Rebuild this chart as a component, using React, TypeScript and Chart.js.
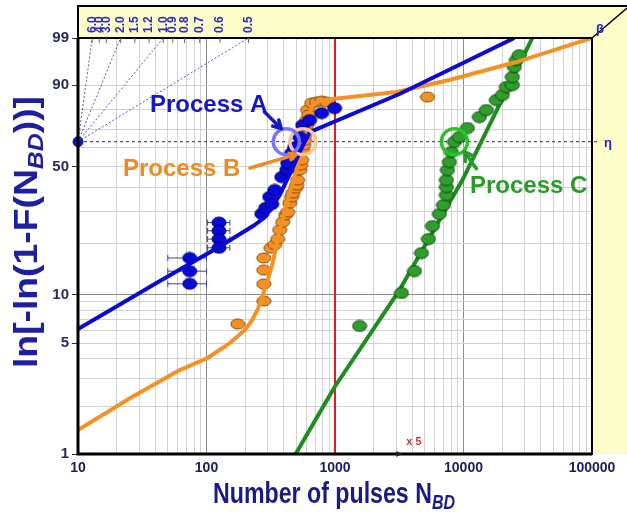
import React, { useEffect, useRef } from "react";
import { Chart, registerables } from "chart.js";
Chart.register(...registerables);

const FONT = "'Liberation Sans', Arial, sans-serif";

// ---- axis definitions ----
const X_LABELS = [10, 100, 1000, 10000, 100000];
const Y_GRID_PCT = [1, 2, 3, 4, 5, 6, 7, 8, 9, 10, 20, 30, 40, 50, 60, 70, 80, 90, 99];
const Y_LABEL_PCT = [1, 5, 10, 50, 90, 99];
const ETA_PCT = 63.21;

// ---- Process A (blue) ----
const A_X = [74, 74, 74, 125, 125, 125, 125, 269, 289, 310, 322, 340, 385, 421, 428, 460, 485, 531, 560, 635, 787, 993];
const A_Y = [16.5, 13.8, 11.6, 26.2, 23.6, 21.2, 18.9, 29.2, 31.4, 35.8, 32.9, 38.8, 44.8, 48.3, 51.8, 57.1, 60.2, 65.7, 72.1, 74.7, 78.2, 80.6];
const A_ERR_LOW = [50, 50, 50, 102, 102, 102, 102];
const A_ERR_HIGH = [100, 100, 100, 152, 152, 152, 152];
const A_FIT_X = [10, 43.4, 127, 237, 280, 320, 371, 460, 550, 635, 3176, 24862];
const A_FIT_Y = [6.14, 12.06, 19.22, 25.4, 27.8, 31.2, 36.61, 48.25, 59.78, 68.42, 86.71, 99.0];

// ---- Process B (orange) ----
const B_X = [175, 279, 279, 279, 279, 316, 339, 358, 371, 392, 413, 428, 444, 460, 468, 494, 503, 512, 531, 540, 550, 560, 570, 580, 580, 591, 602, 602, 612, 624, 658, 719, 787, 860, 5243];
const B_Y = [6.59, 9.12, 11.56, 14.0, 16.5, 18.85, 19.7, 21.2, 23.84, 26.38, 28.8, 29.88, 33.32, 35.8, 37.47, 39.6, 41.03, 43.37, 48.25, 50.8, 53.39, 58.7, 61.4, 63.9, 66.8, 69.5, 72.1, 74.7, 79.7, 77.3, 82.9, 83.36, 83.8, 83.36, 85.5];
const B_FIT_X = [10, 26.3, 62, 102, 152, 198.5, 225, 252, 274, 300, 327.5, 371, 444, 512, 580, 635, 680, 760, 1000, 3010, 7770, 25763, 100000];
const B_FIT_Y = [1.42, 2.3, 3.4, 4.05, 5.02, 6.05, 6.9, 8.2, 9.9, 12.22, 15.41, 23.84, 37.47, 50.79, 66.81, 78.73, 82.4, 84.0, 84.8, 87.49, 91.63, 96.05, 99.0];

// ---- Process C (green) ----
const C_X = [1553, 3292, 4154, 4708, 5337, 5732, 6496, 6980, 7365, 7365, 7365, 7498, 7770, 8054, 8498, 9292, 10723, 13290, 15065, 18010, 20056, 21544, 23986, 23986, 24862, 25763, 27183];
const C_Y = [6.41, 10.21, 13.83, 17.63, 21.21, 25.08, 29.15, 32.52, 36.61, 40.12, 43.37, 48.25, 52.34, 57.63, 63.1, 65.73, 70.56, 76.26, 79.69, 84.23, 86.31, 89.32, 90.01, 92.51, 95.04, 96.4, 97.2];
const C_FIT_X = [494, 993, 3176, 9804, 34295];
const C_FIT_Y = [1.0, 2.66, 10.64, 43.37, 99.0];

// ---- characteristic life markers (eta) ----
const ETA_X = [418, 563, 8498];
const ETA_COLORS = ["#7474ff", "#f7c6a0", "#27c427"];

// ---- Weibull slope estimator ----
const BETA_LINES = [6, 2, 1, 0.5];
const BETA_SCALE = [6.0, 4.0, 3.0, 2.0, 1.5, 1.2, 1.0, 0.9, 0.8, 0.7, 0.6, 0.5];
const ORIGIN_X = 10;

const RED_LINE_X = 1000;

const weib = (p: number) => Math.log(-Math.log(1 - p / 100));
const pts = (xs: number[], ys: number[]) => xs.map((x, i) => ({ x, y: weib(ys[i]) }));

function ellipseImg(fill: string, stroke: string, w: number, h: number) {
  const c = document.createElement("canvas");
  c.width = w + 2;
  c.height = h + 2;
  const g = c.getContext("2d")!;
  g.beginPath();
  g.ellipse((w + 2) / 2, (h + 2) / 2, w / 2, h / 2, 0, 0, Math.PI * 2);
  g.fillStyle = fill;
  g.fill();
  g.lineWidth = 1;
  g.strokeStyle = stroke;
  g.stroke();
  return c;
}

function arrow(ctx: CanvasRenderingContext2D, x1: number, y1: number, x2: number, y2: number, color: string, lw: number, head: number) {
  ctx.save();
  ctx.strokeStyle = color;
  ctx.lineWidth = lw;
  ctx.lineCap = "round";
  ctx.beginPath();
  ctx.moveTo(x1, y1);
  ctx.lineTo(x2, y2);
  const a = Math.atan2(y2 - y1, x2 - x1);
  ctx.moveTo(x2, y2);
  ctx.lineTo(x2 - head * Math.cos(a - 0.5), y2 - head * Math.sin(a - 0.5));
  ctx.moveTo(x2, y2);
  ctx.lineTo(x2 - head * Math.cos(a + 0.5), y2 - head * Math.sin(a + 0.5));
  ctx.stroke();
  ctx.restore();
}

type Seg = { t: string; sub?: boolean };
function richText(ctx: CanvasRenderingContext2D, segs: Seg[], size: number, cx: number, cy: number, len: number, rot: number, color: string) {
  ctx.save();
  const main = `bold ${size}px ${FONT}`;
  const sub = `italic bold ${Math.round(size * 0.68)}px ${FONT}`;
  const ws = segs.map((s) => {
    ctx.font = s.sub ? sub : main;
    return ctx.measureText(s.t).width;
  });
  const total = ws.reduce((a, b) => a + b, 0);
  ctx.translate(cx, cy);
  ctx.rotate(rot);
  ctx.scale(len / total, 1);
  ctx.fillStyle = color;
  ctx.textBaseline = "alphabetic";
  let x = -total / 2;
  const base = size * 0.36;
  segs.forEach((s, i) => {
    ctx.font = s.sub ? sub : main;
    ctx.fillText(s.t, x, s.sub ? base + size * 0.2 : base);
    x += ws[i];
  });
  ctx.restore();
}

const decorPlugin = {
  id: "decor",
  beforeDraw(chart: any) {
    const { ctx, chartArea: ca, width } = chart;
    ctx.save();
    ctx.fillStyle = "#ffffff";
    ctx.fillRect(0, 0, width, chart.height);
    ctx.fillStyle = "#fdfdc9";
    ctx.fillRect(ca.left, 6, width - ca.left, ca.top - 6);
    ctx.fillRect(ca.right, ca.top, width - ca.right, ca.bottom - ca.top);
    ctx.strokeStyle = "#000";
    ctx.lineWidth = 2;
    ctx.beginPath();
    ctx.moveTo(ca.left, ca.top);
    ctx.lineTo(ca.left, 6);
    ctx.lineTo(width, 6);
    ctx.stroke();
    ctx.lineWidth = 1.5;
    ctx.beginPath();
    ctx.moveTo(ca.right, ca.top);
    ctx.lineTo(width, 8);
    ctx.stroke();
    ctx.restore();
  },
  beforeDatasetsDraw(chart: any) {
    const { ctx, chartArea: ca, scales } = chart;
    const xs = scales.x, ys = scales.y;
    ctx.save();
    const ye = ys.getPixelForValue(weib(ETA_PCT));
    ctx.strokeStyle = "#2a2a80";
    ctx.lineWidth = 1;
    ctx.setLineDash([3, 3]);
    ctx.beginPath();
    ctx.moveTo(ca.left, ye);
    ctx.lineTo(ca.right + 8, ye);
    ctx.stroke();
    ctx.setLineDash([]);
    const xr = xs.getPixelForValue(RED_LINE_X);
    ctx.strokeStyle = "#e41b1b";
    ctx.lineWidth = 2;
    ctx.beginPath();
    ctx.moveTo(xr, ca.top);
    ctx.lineTo(xr, ca.bottom);
    ctx.stroke();
    ctx.strokeStyle = "#3c3cb0";
    ctx.lineWidth = 1;
    A_ERR_LOW.forEach((lo, i) => {
      const y = ys.getPixelForValue(weib(A_Y[i]));
      const x1 = xs.getPixelForValue(lo);
      const x2 = xs.getPixelForValue(A_ERR_HIGH[i]);
      ctx.beginPath();
      ctx.moveTo(x1, y);
      ctx.lineTo(x2, y);
      ctx.moveTo(x1, y - 3);
      ctx.lineTo(x1, y + 3);
      ctx.moveTo(x2, y - 3);
      ctx.lineTo(x2, y + 3);
      ctx.stroke();
    });
    ctx.restore();
  },
  afterDatasetsDraw(chart: any) {
    const { ctx, chartArea: ca, scales } = chart;
    const xs = scales.x, ys = scales.y;
    ctx.save();
    ctx.strokeStyle = "#000";
    ctx.lineWidth = 2;
    ctx.strokeRect(ca.left, ca.top, ca.right - ca.left, ca.bottom - ca.top);
    ctx.lineWidth = 3;
    ctx.beginPath();
    ctx.moveTo(ca.left, ca.top);
    ctx.lineTo(ca.left, ca.bottom);
    ctx.lineTo(ca.right, ca.bottom);
    ctx.stroke();
    // beta scale labels
    const top99 = weib(99);
    ctx.fillStyle = "#2b2bd0";
    ctx.strokeStyle = "#666";
    ctx.lineWidth = 1;
    ctx.font = `bold 12px ${FONT}`;
    BETA_SCALE.forEach((b) => {
      const x = xs.getPixelForValue(ORIGIN_X * Math.exp(top99 / b));
      ctx.beginPath();
      ctx.moveTo(x, ca.top);
      ctx.lineTo(x, ca.top + 5);
      ctx.stroke();
      ctx.save();
      ctx.translate(x, ca.top - 5);
      ctx.rotate(-Math.PI / 2);
      ctx.textBaseline = "middle";
      ctx.textAlign = "left";
      ctx.fillText(b.toFixed(1), 0, 0);
      ctx.restore();
    });
    ctx.fillStyle = "#2323c8";
    ctx.font = `bold 13px ${FONT}`;
    ctx.textAlign = "left";
    ctx.textBaseline = "middle";
    ctx.fillText("β", ca.right + 4, ca.top - 9);
    ctx.fillText("η", ca.right + 12, ys.getPixelForValue(weib(ETA_PCT)) + 2);
    const xm = xs.getPixelForValue(3000);
    ctx.fillStyle = "#222";
    ctx.beginPath();
    ctx.moveTo(xm, ca.bottom - 3);
    ctx.lineTo(xm + 6, ca.bottom);
    ctx.lineTo(xm, ca.bottom + 3);
    ctx.fill();
    ctx.fillStyle = "#c83232";
    ctx.font = `bold 11px ${FONT}`;
    ctx.fillText("x 5", xm + 10, ca.bottom - 12);

    const ringPx = ETA_X.map((v) => ({ x: xs.getPixelForValue(v), y: ys.getPixelForValue(weib(ETA_PCT)) }));
    ctx.font = `bold 24px ${FONT}`;
    ctx.textBaseline = "alphabetic";
    ctx.fillStyle = "#1616c8";
    ctx.fillText("Process A", 150, 112);
    arrow(ctx, ringPx[0].x - 22, ringPx[0].y - 30, ringPx[0].x - 5, ringPx[0].y - 13, "#1616c8", 3.5, 9);
    ctx.fillStyle = "#ee8a22";
    ctx.fillText("Process B", 123, 176);
    arrow(ctx, 250, 168, ringPx[1].x - 7, ringPx[1].y + 13, "#ee8a22", 3.5, 7);
    ctx.fillStyle = "#2a9a2a";
    ctx.fillText("Process C", 470, 193);
    arrow(ctx, ringPx[2].x + 22, ringPx[2].y + 27, ringPx[2].x + 10, ringPx[2].y + 10, "#2a9a2a", 3.5, 10);

    richText(ctx, [{ t: "Number of pulses N" }, { t: "BD", sub: true }], 29, (ca.left + ca.right) / 2 - 1, 493, 242, 0, "#1b1b84");
    richText(ctx, [{ t: "ln[-ln(1-F(N" }, { t: "BD", sub: true }, { t: "))]" }], 33, 25, 232, 272, -Math.PI / 2, "#1e1ea0");
    ctx.restore();
  },
};

export default function App() {
  const ref = useRef<HTMLCanvasElement>(null);
  useEffect(() => {
    const yGrid = Y_GRID_PCT.map(weib);
    const xGrid: number[] = [];
    for (let d = 10; d <= 100000; d *= 10) for (let m = 1; m <= 9; m++) if (m * d <= 100000) xGrid.push(m * d);
    const blueDot = ellipseImg("#0a0ad8", "#00006a", 14, 11);
    const orangeDot = ellipseImg("#f39224", "#8a4a10", 14, 10);
    const greenDot = ellipseImg("#2f9e2f", "#0c4a0c", 14, 11);
    const isDecade = (v: number) => {
      const l = Math.log10(v);
      return Math.abs(l - Math.round(l)) < 1e-6;
    };

    const datasets: any[] = [
      ...ETA_X.map((x, i) => ({
        data: [{ x, y: weib(ETA_PCT) }],
        pointStyle: "circle",
        pointRadius: 13,
        borderWidth: 3.5,
        pointBorderColor: ETA_COLORS[i],
        pointBackgroundColor: "rgba(0,0,0,0)",
        showLine: false,
      })),
      { data: pts(A_FIT_X, A_FIT_Y), showLine: true, borderColor: "#0b0bd0", borderWidth: 4, pointRadius: 0, tension: 0, borderJoinStyle: "round" },
      { data: pts(A_X, A_Y), showLine: false, pointStyle: blueDot, pointRadius: 7 },
      { data: pts(B_FIT_X, B_FIT_Y), showLine: true, borderColor: "#f39224", borderWidth: 4, pointRadius: 0, tension: 0, borderJoinStyle: "round" },
      { data: pts(B_X, B_Y), showLine: false, pointStyle: orangeDot, pointRadius: 7 },
      { data: pts(C_X, C_Y), showLine: false, pointStyle: greenDot, pointRadius: 7 },
      { data: pts(C_FIT_X, C_FIT_Y), showLine: true, borderColor: "#1e8c1e", borderWidth: 4, pointRadius: 0, tension: 0, borderJoinStyle: "round" },
      ...BETA_LINES.map((b) => ({
        data: [
          { x: ORIGIN_X, y: weib(ETA_PCT) },
          { x: ORIGIN_X * Math.exp(weib(99) / b), y: weib(99) },
        ],
        showLine: true,
        borderColor: "#5a5aa8",
        borderWidth: 1,
        borderDash: [2, 2],
        pointRadius: 0,
      })),
      {
        data: [{ x: ORIGIN_X, y: weib(ETA_PCT) }],
        pointRadius: 5,
        pointBackgroundColor: "#1010c0",
        pointBorderColor: "#1010c0",
        clip: false,
      },
    ];

    const chart = new Chart(ref.current!, {
      type: "scatter",
      data: { datasets },
      plugins: [decorPlugin],
      options: {
        animation: false,
        responsive: false,
        maintainAspectRatio: false,
        devicePixelRatio: 1,
        layout: { padding: { left: 0, top: 38, right: 35, bottom: 0 } },
        plugins: { legend: { display: false }, tooltip: { enabled: false } },
        scales: {
          x: {
            type: "logarithmic",
            min: 10,
            max: 100000,
            afterBuildTicks: (s: any) => {
              s.ticks = xGrid.map((v) => ({ value: v }));
            },
            afterFit: (s: any) => {
              s.height = 69;
            },
            border: { display: false },
            grid: {
              drawTicks: false,
              color: (c: any) => (isDecade(c.tick.value) ? "#8c8c8c" : "#d2d2d2"),
              lineWidth: 1,
            },
            ticks: {
              autoSkip: false,
              maxRotation: 0,
              padding: 6,
              color: "#1c1c5c",
              font: { family: FONT, size: 14, weight: "bold" },
              callback: (v: any) => (X_LABELS.includes(Number(v)) ? String(v) : ""),
            },
          },
          y: {
            type: "linear",
            min: weib(1),
            max: weib(99),
            afterBuildTicks: (s: any) => {
              s.ticks = yGrid.map((v) => ({ value: v }));
            },
            afterFit: (s: any) => {
              s.width = 78;
            },
            border: { display: false },
            grid: {
              drawTicks: true,
              tickLength: 6,
              color: (c: any) => (Y_GRID_PCT[c.index] === 10 ? "#8c8c8c" : "#d2d2d2"),
              tickColor: (c: any) => (Y_LABEL_PCT.includes(Y_GRID_PCT[c.index]) ? "#333" : "rgba(0,0,0,0)"),
              lineWidth: 1,
            },
            ticks: {
              autoSkip: false,
              padding: 3,
              color: "#2a2a5c",
              font: { family: FONT, size: 15, weight: "bold" },
              callback: (_v: any, i: number) => (Y_LABEL_PCT.includes(Y_GRID_PCT[i]) ? String(Y_GRID_PCT[i]) : ""),
            },
          },
        },
      } as any,
    });
    return () => chart.destroy();
  }, []);
  return (
    <div style={{ position: "fixed", left: 0, top: 0, width: 627, height: 523, background: "#fff" }}>
      <canvas ref={ref} width={627} height={523} style={{ width: 627, height: 523, display: "block" }} />
    </div>
  );
}
